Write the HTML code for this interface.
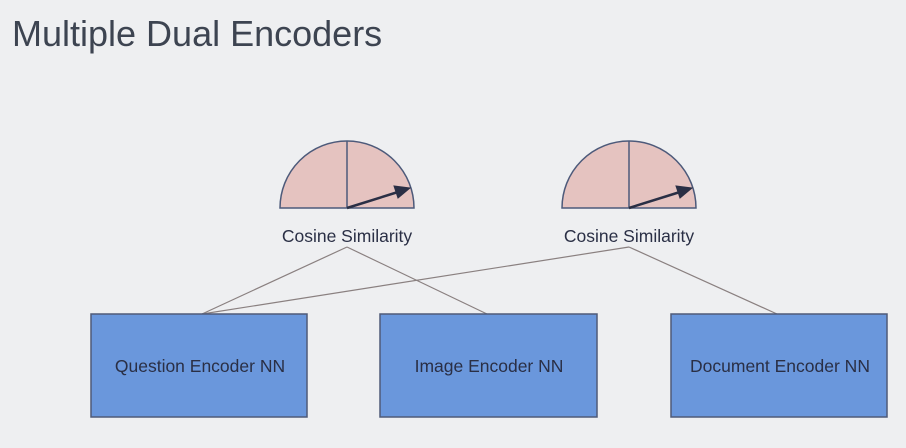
<!DOCTYPE html>
<html><head><style>
body{margin:0;background:#eeeff1;}
svg{display:block}
</style></head><body>
<svg width="906" height="448" xmlns="http://www.w3.org/2000/svg" font-family="Liberation Sans, Arial, sans-serif">
<rect width="906" height="448" fill="#eeeff1"/>
<text x="12" y="46" font-size="36" fill="#3d4451">Multiple Dual Encoders</text>
<g stroke="#4d5a7a" stroke-width="1.5" fill="#e5c3c0">
<path d="M280 208 A67 67 0 0 1 414 208 Z"/>
<line x1="347" y1="141" x2="347" y2="208"/>
<path d="M562 208 A67 67 0 0 1 696 208 Z"/>
<line x1="629" y1="141" x2="629" y2="208"/>
</g>
<g stroke="#2a2f45" stroke-width="2.5" fill="#2a2f45">
<line x1="347" y1="208" x2="398" y2="192"/>
<polygon points="410,188 394,186 398,198" stroke-width="1"/>
<line x1="629" y1="208" x2="680" y2="192"/>
<polygon points="692,188 676,186 680,198" stroke-width="1"/>
</g>
<text x="347" y="242" font-size="17.5" fill="#2a2f45" text-anchor="middle">Cosine Similarity</text>
<text x="629" y="242" font-size="17.5" fill="#2a2f45" text-anchor="middle">Cosine Similarity</text>
<g stroke="#8a8080" stroke-width="1.2">
<line x1="202" y1="314" x2="347" y2="247"/>
<line x1="202" y1="314" x2="629" y2="247"/>
<line x1="487" y1="314" x2="347" y2="247"/>
<line x1="777" y1="314" x2="629" y2="247"/>
</g>
<g fill="#6a97dc" stroke="#4f5a78" stroke-width="1.5">
<rect x="91" y="314" width="216" height="103"/>
<rect x="380" y="314" width="217" height="103"/>
<rect x="671" y="314" width="216" height="103"/>
</g>
<g font-size="17.5" fill="#2a2f45" text-anchor="middle">
<text x="200" y="372">Question Encoder NN</text>
<text x="489" y="372">Image Encoder NN</text>
<text x="780" y="372">Document Encoder NN</text>
</g>
</svg>
</body></html>
